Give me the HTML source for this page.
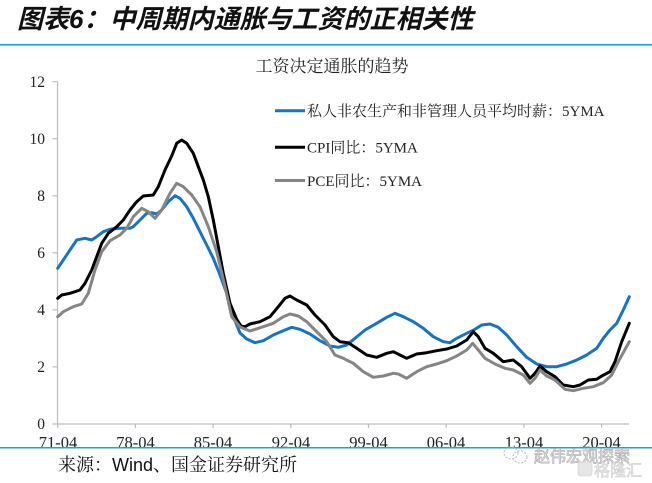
<!DOCTYPE html>
<html>
<head>
<meta charset="utf-8">
<style>
html,body{margin:0;padding:0;background:#fff;}
body{width:652px;height:483px;overflow:hidden;position:relative;}
svg{display:block;}
</style>
</head>
<body>
<svg width="652" height="483" viewBox="0 0 652 483" xmlns="http://www.w3.org/2000/svg">
  <rect x="0" y="0" width="652" height="483" fill="#fff"/>
  <!-- Title -->
  <text x="17" y="28" font-family="'Liberation Sans','Noto Sans CJK SC',sans-serif" font-size="26" font-weight="bold" font-style="italic" fill="#111">图表6：中周期内通胀与工资的正相关性</text>
  <rect x="0" y="44" width="652" height="1.6" fill="#1ea0e2"/>

  <!-- Chart title -->
  <text x="332" y="72" text-anchor="middle" font-family="'Noto Serif CJK SC',serif" font-size="17" fill="#222">工资决定通胀的趋势</text>

  <!-- Axes -->
  <g stroke="#bdbdbd" stroke-width="1.2" fill="none">
    <line x1="57.5" y1="81.6" x2="57.5" y2="424"/>
    <line x1="57.5" y1="424" x2="629" y2="424"/>
    <line x1="52.5" y1="81.6" x2="57.5" y2="81.6"/>
    <line x1="52.5" y1="138.7" x2="57.5" y2="138.7"/>
    <line x1="52.5" y1="195.8" x2="57.5" y2="195.8"/>
    <line x1="52.5" y1="252.8" x2="57.5" y2="252.8"/>
    <line x1="52.5" y1="309.9" x2="57.5" y2="309.9"/>
    <line x1="52.5" y1="366.9" x2="57.5" y2="366.9"/>
    <line x1="52.5" y1="424" x2="57.5" y2="424"/>
    <line x1="57.7" y1="424" x2="57.7" y2="428"/>
    <line x1="135.4" y1="424" x2="135.4" y2="428"/>
    <line x1="213.1" y1="424" x2="213.1" y2="428"/>
    <line x1="290.8" y1="424" x2="290.8" y2="428"/>
    <line x1="368.5" y1="424" x2="368.5" y2="428"/>
    <line x1="446.2" y1="424" x2="446.2" y2="428"/>
    <line x1="523.9" y1="424" x2="523.9" y2="428"/>
    <line x1="601.6" y1="424" x2="601.6" y2="428"/>
  </g>

  <!-- Y labels -->
  <g font-family="'Liberation Serif',serif" font-size="15.5" fill="#222" text-anchor="end">
    <text x="45" y="87">12</text>
    <text x="45" y="144">10</text>
    <text x="45" y="201">8</text>
    <text x="45" y="258">6</text>
    <text x="45" y="315">4</text>
    <text x="45" y="372">2</text>
    <text x="45" y="429">0</text>
  </g>

  <!-- X labels -->
  <g font-family="'Liberation Serif',serif" font-size="16.5" fill="#222" text-anchor="middle">
    <text x="58" y="448">71-04</text>
    <text x="135.5" y="448">78-04</text>
    <text x="213" y="448">85-04</text>
    <text x="291" y="448">92-04</text>
    <text x="368.5" y="448">99-04</text>
    <text x="446" y="448">06-04</text>
    <text x="524" y="448">13-04</text>
    <text x="601.5" y="448">20-04</text>
  </g>

  <!-- Series -->
  <g fill="none" stroke-width="3" stroke-linejoin="round" stroke-linecap="round">
    <polyline stroke="#1874c1" points="57.7,268.3 63.3,260 70,250 76.7,240 80,239.3 85,238.3 91.7,240 96.7,236.7 103.3,231.7 110,229.3 120,228.3 130,228.3 133.3,226.7 140,220 146.7,213.3 151.7,212.7 156.7,214 161.7,210 168.3,201.7 175,195.7 180,198.3 186.7,206.7 193.3,218.3 200,231.7 206.7,245 213.3,258.3 220,275 226.7,293.3 233.3,316.7 240,333 246.7,339 255,342.7 263.3,340.7 273.3,335 283.3,330.7 291.7,327.3 300,329.3 310,334 320,340.7 330,346 338.3,347.3 346.7,345 355,338.3 365,330 376.7,323.3 386.7,317.3 395,313.3 403.3,316.7 413.3,321.7 423.3,328.3 433.3,336.7 443.3,341.7 450,342.7 456.7,338.3 466.7,333.3 475,329.3 481.7,325 490,324 498.3,327.3 506.7,335 516.7,346.7 526.7,357.3 536.7,364 546.7,366.7 556.7,366.7 566.7,364 576.7,360 586.7,355 596.7,348.3 603.3,338.3 610,330 616.7,323.3 623.3,310 629.3,296.7"/>
    <polyline stroke="#000" points="57.7,298.3 61.7,295 70,293.3 80,290 85,283.3 91.7,270 96.7,256.7 101.7,243.3 108.3,233.3 116.7,226.7 123.3,220 130,210 136.7,201.7 143.3,196 153.3,195 158.3,186.7 165,170 171.7,156 176.7,143.3 181.7,140 186.7,143.3 193.3,153.3 198.3,166.7 203.3,180 208.3,196.7 213.3,220 218.3,246.7 223.3,273.3 230,303.3 236.7,319.3 241,326 245,326.7 250,324 260,321.7 270,316.7 278.3,306.7 285,298.3 290,296 296.7,300 306.7,305 315,315 325,325 333.3,336.7 340,341.7 348.3,342.7 356.7,348.3 366.7,355 376.7,357.3 386.7,353.3 393.3,351.7 400,355 406.7,358.3 416.7,354 426.7,352.7 436.7,350.7 446.7,349 456.7,346 466.7,340 473.3,331.7 478.3,336.7 485,348.3 493.3,353.3 503.3,361.7 513.3,360 521.7,366.7 530,378.3 535,373.3 540,366 546.7,371.7 555,376.7 563.3,385 573.3,386.7 580,385 588.3,380 596.7,379.3 601.7,376 610,371.7 615,361.7 621.7,341.7 629.3,323.3"/>
    <polyline stroke="#858585" points="57.7,316.7 63.3,311.7 73.3,306.7 81.7,304 88.3,293.3 95,270 101.7,251.7 110,240.7 120,235 126.7,228.3 133.3,216.7 141.7,208.3 148.3,211.7 155,218.3 161.7,210 170,193.3 176.7,183.3 183.3,186.7 191.7,195 200,206.7 208.3,226.7 216.7,251.7 225,286.7 231.7,316.7 240,327 250,331 263.3,326.7 273.3,323.3 283.3,316.7 290,314 298.3,316 306.7,321.7 316.7,331.7 326.7,341.7 335,355 343.3,358.3 353.3,363.3 363.3,371.7 373.3,377.3 383.3,376 393.3,373.3 398.3,374 406.7,378.3 416.7,371.7 426.7,366.7 436.7,364 446.7,360.7 456.7,356 466.7,350 472.7,343.3 478.3,350 485,358.3 495,364 505,368.3 513.3,370 523.3,375 530,383.3 535,378.3 540,370 546.7,376 555,380 565,389.3 573.3,390.7 583.3,388.3 593.3,386.7 603.3,382.7 611.7,375 618.3,361.7 629.3,341.7"/>
  </g>

  <!-- Legend -->
  <g stroke-width="3">
    <line x1="275" y1="110.7" x2="305" y2="110.7" stroke="#1874c1"/>
    <line x1="275" y1="147.3" x2="305" y2="147.3" stroke="#000"/>
    <line x1="275" y1="180.5" x2="305" y2="180.5" stroke="#858585"/>
  </g>
  <g font-family="'Liberation Serif','Noto Serif CJK SC',serif" font-size="15" fill="#222">
    <text x="307" y="116">私人非农生产和非管理人员平均时薪：5YMA</text>
    <text x="307" y="152.5">CPI同比：5YMA</text>
    <text x="307" y="186">PCE同比：5YMA</text>
  </g>

  <!-- Bottom rule -->
  <rect x="0" y="447" width="652" height="1.5" fill="#1ea0e2"/>

  <!-- Source -->
  <text x="58" y="471" font-size="18" fill="#111"><tspan font-family="'Noto Serif CJK SC',serif">来源：</tspan><tspan font-family="'Liberation Sans',sans-serif">Wind</tspan><tspan font-family="'Noto Serif CJK SC',serif">、国金证券研究所</tspan></text>

  <!-- Watermark -->
  <g fill="none" stroke="#b8b8b8" stroke-width="1" stroke-dasharray="2 1.5">
    <ellipse cx="511" cy="453" rx="7" ry="6"/>
    <ellipse cx="520" cy="457" rx="7" ry="6"/>
  </g>
  <text x="534" y="462" font-family="'Noto Sans CJK SC',sans-serif" font-size="16" fill="#fff" stroke="#b5b5b5" stroke-width="0.8">赵伟宏观探索</text>
  <g fill="#e6e6e6" stroke="#cfcfcf" stroke-width="0.6">
    <rect x="578" y="462" width="14" height="14" rx="3"/>
  </g>
  <text x="594" y="476" font-family="'Noto Sans CJK SC',sans-serif" font-size="16" fill="#ececec" stroke="#cfcfcf" stroke-width="0.6">格隆汇</text>
</svg>
</body>
</html>
